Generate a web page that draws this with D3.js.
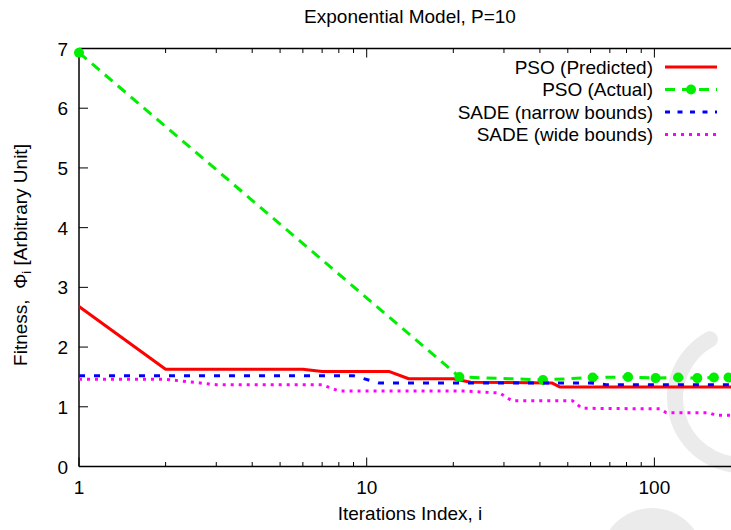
<!DOCTYPE html>
<html><head><meta charset="utf-8">
<script src="https://cdn.jsdelivr.net/npm/d3@7"></script>
<style>
html,body{margin:0;padding:0;background:#fff;}
svg text{font-family:"Liberation Sans",Arial,sans-serif;fill:#000;}
</style></head>
<body><svg id="c" width="731" height="530"></svg>
<script>
// ---- data ----
const predX = [1,2,6,7,12,14,20,23,44,47,200];
const predY = [2.68,1.63,1.63,1.59,1.59,1.47,1.47,1.41,1.40,1.33,1.33];
const actX = [1,21,41,61,81,101,121,141,161,181,201];
const actY = [6.93,1.50,1.45,1.49,1.50,1.48,1.49,1.48,1.49,1.49,1.49];
const narX = [1,9,11,60,68,200];
const narY = [1.52,1.52,1.40,1.40,1.37,1.37];
const wideX = [1,2,3,7,8,22,29,32,52,56,105,110,155,163,200];
const wideY = [1.46,1.46,1.37,1.37,1.265,1.265,1.23,1.10,1.10,0.975,0.965,0.90,0.90,0.86,0.86];
const yTicks = [0,1,2,3,4,5,6,7];
const xMajor = [1,10,100];
const xMinor = [2,3,4,5,6,7,8,9,20,30,40,50,60,70,80,90,200];
const seriesNames = ["PSO (Predicted)","PSO (Actual)","SADE (narrow bounds)","SADE (wide bounds)"];
const titleText = "Exponential Model, P=10";
const xLabel = "Iterations Index, i";

const svg = d3.select("#c");
const L=79, T=48.5, R=741, B=466.5;
const x = d3.scaleLog().domain([1,200]).range([L,R]);
const y = d3.scaleLinear().domain([0,7]).range([B,T]);

// watermark
const wm = svg.append("g");
const arc = d3.arc().innerRadius(59).outerRadius(75)
  .startAngle(-0.38).endAngle(-Math.PI*1.05).cornerRadius(8);
wm.append("path").attr("d", arc()).attr("transform","translate(742,398)").attr("fill","#ebebeb");
wm.append("circle").attr("cx",652).attr("cy",560).attr("r",52).attr("fill","#ebebeb");

// axes frame
const g = svg.append("g");
g.append("line").attr("x1",L).attr("x2",L).attr("y1",T).attr("y2",B).attr("stroke","#000").attr("stroke-width",1.5);
g.append("line").attr("x1",L).attr("x2",R).attr("y1",B).attr("y2",B).attr("stroke","#000").attr("stroke-width",1.5);
g.append("line").attr("x1",L).attr("x2",R).attr("y1",T).attr("y2",T).attr("stroke","#000").attr("stroke-width",1.5);
g.append("line").attr("x1",R).attr("x2",R).attr("y1",T).attr("y2",B).attr("stroke","#000").attr("stroke-width",1.5);

// x ticks (bottom and top, inward)
const tk = (v,len)=>{
  g.append("line").attr("x1",x(v)).attr("x2",x(v)).attr("y1",B).attr("y2",B-len).attr("stroke","#000").attr("stroke-width",1);
  g.append("line").attr("x1",x(v)).attr("x2",x(v)).attr("y1",T).attr("y2",T+len).attr("stroke","#000").attr("stroke-width",1);
};
xMajor.forEach(v=>tk(v,9));
xMinor.forEach(v=>tk(v,4.5));
xMajor.forEach(v=>{
  g.append("text").attr("x",x(v)).attr("y",494).attr("text-anchor","middle").attr("font-size",19).text(d3.format("d")(v));
});
yTicks.forEach(v=>{
  g.append("line").attr("x1",L).attr("x2",L+9).attr("y1",y(v)).attr("y2",y(v)).attr("stroke","#000").attr("stroke-width",1);
  g.append("line").attr("x1",R).attr("x2",R-9).attr("y1",y(v)).attr("y2",y(v)).attr("stroke","#000").attr("stroke-width",1);
  g.append("text").attr("x",68).attr("y",y(v)+7).attr("text-anchor","end").attr("font-size",19).text(v);
});

// labels
svg.append("text").attr("x",410).attr("y",23).attr("text-anchor","middle").attr("font-size",19).text(titleText);
svg.append("text").attr("x",410).attr("y",520).attr("text-anchor","middle").attr("font-size",19).text(xLabel);
const yl = svg.append("text").attr("transform","translate(27,255) rotate(-90)").attr("text-anchor","middle").attr("font-size",19);
yl.append("tspan").text("Fitness,\u00a0\u00a0\u03a6");
yl.append("tspan").attr("font-size",13).attr("dy",4).text("i");
yl.append("tspan").attr("dy",-4).text(" [Arbitrary Unit]");

// series
const line = d3.line().x(d=>x(d[0])).y(d=>y(d[1]));
const styles = [
  {c:"#ff0000", w:3, dash:null},
  {c:"#00ee00", w:3, dash:"10,7"},
  {c:"#0000ff", w:3, dash:"6,9"},
  {c:"#ff00ff", w:3, dash:"3,5"}
];
const data = [d3.zip(predX,predY), d3.zip(actX,actY), d3.zip(narX,narY), d3.zip(wideX,wideY)];
const pg = svg.append("g");
data.forEach((d,i)=>{
  const p = pg.append("path").attr("d",line(d)).attr("fill","none")
    .attr("stroke",styles[i].c).attr("stroke-width",styles[i].w).attr("stroke-linejoin","round");
  if(styles[i].dash) p.attr("stroke-dasharray",styles[i].dash);
  if(i===1){
    pg.selectAll(null).data(d).enter().append("circle")
      .attr("cx",e=>x(e[0])).attr("cy",e=>y(e[1])).attr("r",5).attr("fill",styles[i].c);
  }
});

// legend
const lg = svg.append("g");
const rowY = [67,89.5,112,134.5];
seriesNames.forEach((n,i)=>{
  lg.append("text").attr("x",653).attr("y",rowY[i]+6.5).attr("text-anchor","end").attr("font-size",19).text(n);
  const p = lg.append("line").attr("x1",665).attr("x2",717).attr("y1",rowY[i]).attr("y2",rowY[i])
    .attr("stroke",styles[i].c).attr("stroke-width",styles[i].w);
  if(styles[i].dash) p.attr("stroke-dasharray", i===2 ? "5,7.5" : styles[i].dash);
  if(i===1) lg.append("circle").attr("cx",691).attr("cy",rowY[i]).attr("r",5).attr("fill",styles[i].c);
});
</script></body></html>
